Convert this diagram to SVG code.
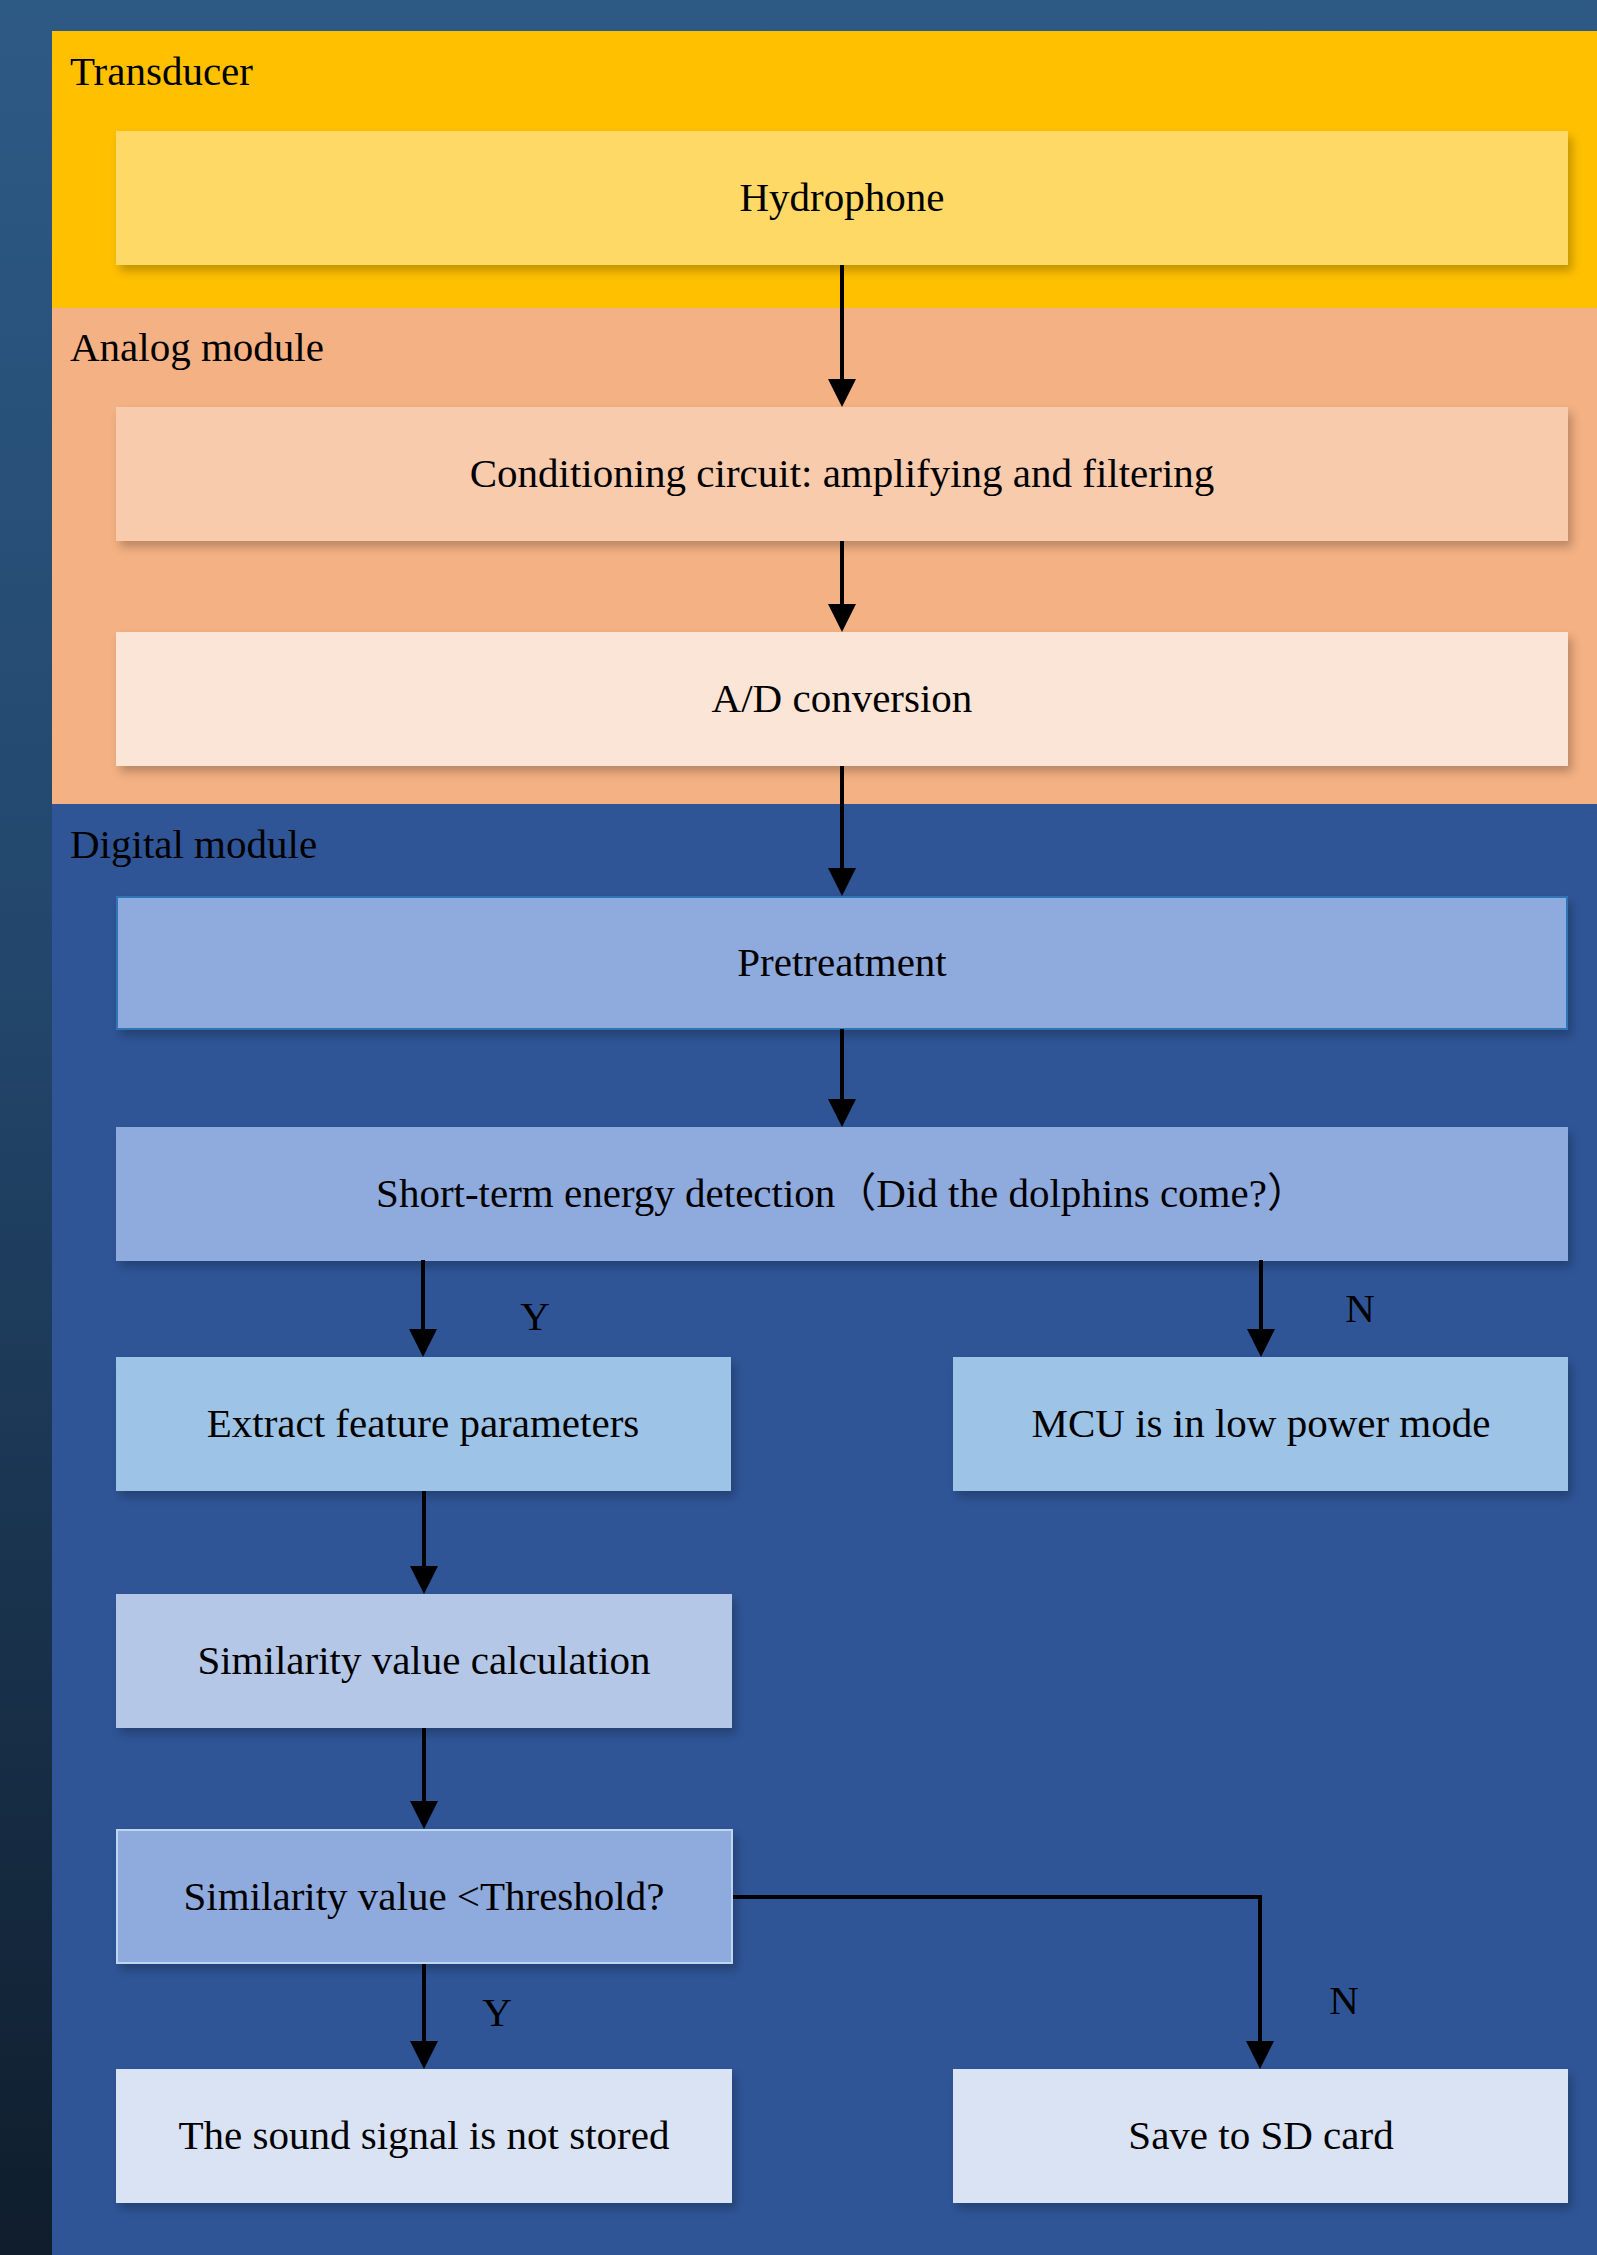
<svg xmlns="http://www.w3.org/2000/svg" width="1597" height="2255" viewBox="0 0 1597 2255">
<defs>
<linearGradient id="bg" x1="0" y1="0" x2="0" y2="1">
<stop offset="0" stop-color="#2D5A85"/>
<stop offset="0.45" stop-color="#22456A"/>
<stop offset="1" stop-color="#0F1D2C"/>
</linearGradient>
<filter id="sh" x="-5%" y="-10%" width="112%" height="135%">
<feDropShadow dx="4" dy="6" stdDeviation="5" flood-color="#000" flood-opacity="0.24"/>
</filter>
<marker id="ah" markerUnits="userSpaceOnUse" markerWidth="28" markerHeight="28" refX="8" refY="14" orient="auto">
<path d="M0,0 L28,14 L0,28 z" fill="#000"/>
</marker>
</defs>
<style>
text{font-family:"Liberation Serif","Times New Roman",serif;font-size:41px;fill:#000}
.c{text-anchor:middle}
.box{filter:url(#sh)}
.conn path{fill:none;stroke:#000;stroke-width:4;marker-end:url(#ah)}
</style>
<rect x="0" y="0" width="1597" height="2255" fill="url(#bg)"/>
<g id="band-transducer">
<rect x="52" y="31" width="1545" height="277" fill="#FFC000"/>
<text x="70" y="85">Transducer</text>
</g>
<g id="band-analog">
<rect x="52" y="308" width="1545" height="496" fill="#F4B183"/>
<text x="70" y="361">Analog module</text>
</g>
<g id="band-digital">
<rect x="52" y="804" width="1545" height="1451" fill="#2F5597"/>
<text x="70" y="858">Digital module</text>
</g>
<g id="n-hydrophone">
<rect class="box" x="116" y="131" width="1452" height="134" fill="#FFD966"/>
<text class="c" x="842" y="211">Hydrophone</text>
</g>
<g id="n-conditioning">
<rect class="box" x="116" y="407" width="1452" height="134" fill="#F8CBAD"/>
<text class="c" x="842" y="487">Conditioning circuit: amplifying and filtering</text>
</g>
<g id="n-ad">
<rect class="box" x="116" y="632" width="1452" height="134" fill="#FBE5D6"/>
<text class="c" x="842" y="712">A/D conversion</text>
</g>
<g id="n-pretreatment">
<rect class="box" x="117" y="897" width="1450" height="132" fill="#8FAADC" stroke="#2E75B6" stroke-width="2"/>
<text class="c" x="842" y="976">Pretreatment</text>
</g>
<g id="n-shortterm">
<rect class="box" x="116" y="1127" width="1452" height="134" fill="#8FAADC"/>
<text class="c" x="842" y="1207">Short-term energy detection<tspan font-family="'Noto Sans CJK SC',sans-serif">（</tspan>Did the dolphins come?<tspan font-family="'Noto Sans CJK SC',sans-serif">）</tspan></text>
</g>
<g id="n-extract">
<rect class="box" x="116" y="1357" width="615" height="134" fill="#9DC3E6"/>
<text class="c" x="423" y="1437">Extract feature parameters</text>
</g>
<g id="n-mcu">
<rect class="box" x="953" y="1357" width="615" height="134" fill="#9DC3E6"/>
<text class="c" x="1261" y="1437">MCU is in low power mode</text>
</g>
<g id="n-simcalc">
<rect class="box" x="116" y="1594" width="616" height="134" fill="#B4C7E7"/>
<text class="c" x="424" y="1674">Similarity value calculation</text>
</g>
<g id="n-threshold">
<rect class="box" x="117" y="1830" width="615" height="133" fill="#8FAADC" stroke="#BDD7EE" stroke-width="2"/>
<text class="c" x="424" y="1910">Similarity value &lt;Threshold?</text>
</g>
<g id="n-notstored">
<rect class="box" x="116" y="2069" width="616" height="134" fill="#DAE3F3"/>
<text class="c" x="424" y="2149">The sound signal is not stored</text>
</g>
<g id="n-savesd">
<rect class="box" x="953" y="2069" width="615" height="134" fill="#DAE3F3"/>
<text class="c" x="1261" y="2149">Save to SD card</text>
</g>
<g id="connectors" class="conn">
<path d="M842,265 V387"/>
<path d="M842,541 V612"/>
<path d="M842,766 V876"/>
<path d="M842,1029 V1107"/>
<path d="M423,1260 V1337"/>
<path d="M1261,1260 V1337"/>
<path d="M424,1491 V1574"/>
<path d="M424,1728 V1809"/>
<path d="M424,1964 V2049"/>
<path d="M733,1897 H1260 V2049"/>
<text class="c" x="535" y="1330">Y</text>
<text class="c" x="1360" y="1322">N</text>
<text class="c" x="497" y="2026">Y</text>
<text class="c" x="1344" y="2014">N</text>
</g>
</svg>
